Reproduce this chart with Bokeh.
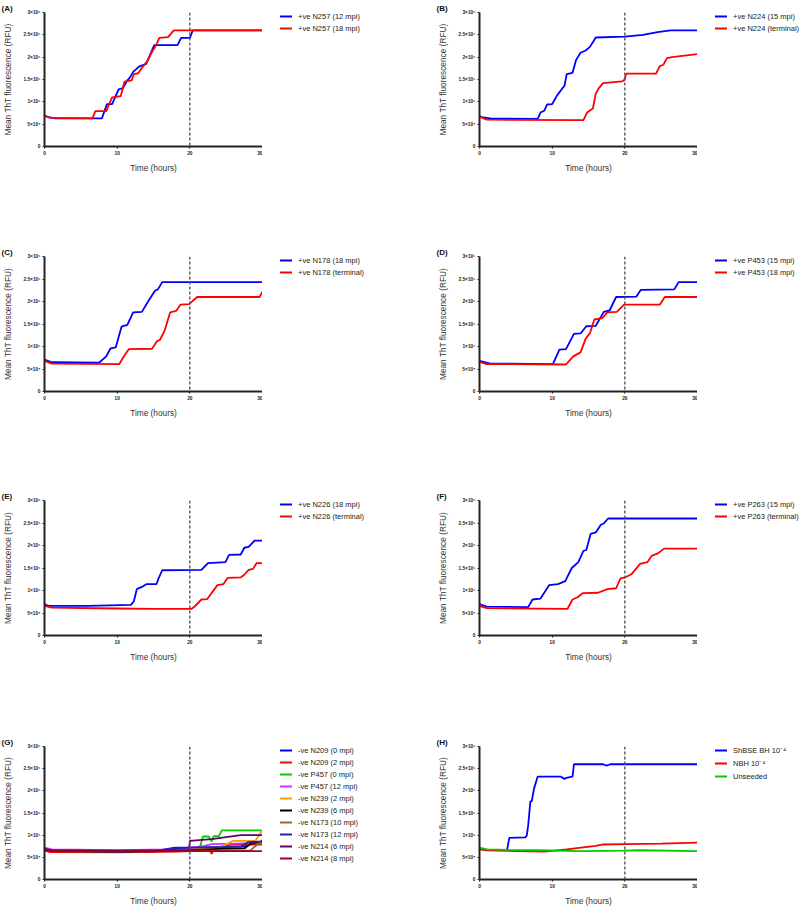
from bokeh.plotting import figure
from bokeh.layouts import column, row
from bokeh.models import Range1d, FixedTicker, Span, Legend, LegendItem
from bokeh.embed import file_html
from bokeh.resources import INLINE

FONT = "Liberation Sans"

# ---------------- data (time in hours, mean ThT fluorescence in RFU) -------------
y_ticks = [0, 50000, 100000, 150000, 200000, 250000, 300000]
y_tick_labels = ["0", "5×10⁴", "1×10⁵", "1.5×10⁵", "2×10⁵", "2.5×10⁵", "3×10⁵"]
x_ticks = [0, 10, 20, 30]

# (A)
a1_t = [0, 0.6, 1.5, 7.9, 8.6, 9.3, 10.2, 10.8, 11.4, 11.7, 12.2, 13.0, 14.0, 15.1, 18.3, 18.8, 20.0, 20.4, 30]
a1_v = [70000, 65000, 63000, 63000, 95000, 95000, 128000, 131000, 148000, 153000, 167000, 179000, 185000,
        227000, 227000, 243000, 243000, 260000, 260000]
a2_t = [0, 1, 6.6, 7.0, 8.5, 9.3, 10.5, 11.0, 12.0, 12.3, 12.9, 13.6, 14.1, 14.9, 15.3, 15.8, 17.0, 17.8, 30]
a2_v = [68000, 64000, 63000, 79000, 79000, 110000, 113000, 145000, 148000, 162000, 164000, 180000, 190000,
        215000, 225000, 243000, 245000, 260000, 260000]
# (B)
b1_t = [0, 0.3, 1.5, 8.0, 8.4, 8.9, 9.3, 10.0, 10.7, 11.4, 11.7, 12.0, 12.8, 13.3, 13.9, 14.6, 15.2, 16.0,
        20.0, 22.5, 24.5, 26.3, 30]
b1_v = [68000, 66000, 63000, 62000, 76000, 80000, 94000, 95000, 115000, 130000, 136000, 162000, 165000,
        194000, 210000, 215000, 223000, 244000, 246000, 250000, 256000, 260000, 260000]
b2_t = [0, 1, 14.3, 14.8, 15.6, 16.0, 16.4, 17.0, 19.6, 19.9, 20.2, 24.3, 24.8, 25.3, 25.8, 26.5, 30]
b2_v = [67000, 60000, 59000, 76000, 85000, 118000, 130000, 142000, 146000, 148000, 163000, 163000, 180000,
        183000, 198000, 200000, 207000]
# (C)
c1_t = [0, 1, 7.5, 8.5, 9.1, 9.8, 10.6, 11.4, 12.2, 13.4, 14.3, 15.2, 15.6, 16.2, 30]
c1_v = [71000, 65000, 64000, 78000, 96000, 98000, 144000, 148000, 176000, 177000, 201000, 224000, 227000,
        243000, 243000]
c2_t = [0, 1, 10.3, 11.0, 11.6, 14.8, 15.5, 15.9, 16.5, 17.3, 18.1, 18.7, 19.9, 21.0, 29.6, 30]
c2_v = [68000, 62000, 61000, 80000, 94000, 95000, 112000, 115000, 134000, 176000, 179000, 193000, 194000,
        210000, 210000, 222000]
# (D)
d1_t = [0, 1.5, 10.1, 11.0, 11.9, 13.0, 13.9, 14.7, 16.0, 17.1, 17.9, 18.8, 21.6, 22.2, 26.8, 27.4, 30]
d1_v = [68000, 62000, 61000, 93000, 94000, 128000, 129000, 145000, 146000, 177000, 180000, 210000, 211000,
        226000, 227000, 243000, 243000]
d2_t = [0, 1, 11.9, 12.9, 13.9, 14.6, 15.2, 15.8, 16.9, 17.6, 18.9, 19.9, 24.8, 25.5, 30]
d2_v = [66000, 61000, 60000, 78000, 87000, 117000, 130000, 160000, 163000, 176000, 177000, 193000, 193000,
        210000, 210000]
# (E)
e1_t = [0, 0.5, 6, 11.9, 12.3, 12.7, 13.4, 14.0, 15.4, 15.7, 16.2, 21.6, 22.5, 24.9, 25.4, 27.0, 27.5,
        28.1, 28.9, 30]
e1_v = [70000, 66000, 66000, 68000, 76000, 103000, 108000, 114000, 114000, 127000, 145000, 146000, 161000,
        163000, 179000, 180000, 195000, 197000, 211000, 211000]
e2_t = [0, 1, 10, 15, 20.2, 20.7, 21.6, 22.4, 23.8, 24.6, 25.2, 27.0, 27.5, 28.1, 28.7, 29.2, 30]
e2_v = [66000, 62000, 60000, 59000, 59000, 65000, 80000, 81000, 112000, 114000, 128000, 129000, 135000,
        146000, 148000, 161000, 161000]
# (F)
f1_t = [0, 1, 6.7, 7.3, 8.4, 9.6, 10.8, 11.8, 12.7, 13.6, 14.3, 14.7, 15.3, 16.0, 16.7, 17.1, 17.7, 30]
f1_v = [70000, 64000, 63000, 80000, 82000, 112000, 114000, 121000, 150000, 163000, 188000, 190000, 226000,
        229000, 246000, 249000, 260000, 260000]
f2_t = [0, 1, 12.1, 12.8, 13.5, 14.2, 16.3, 17.6, 18.8, 19.4, 20.0, 20.9, 22.1, 23.1, 23.7, 24.6, 25.4, 30]
f2_v = [66000, 61000, 59000, 80000, 85000, 94000, 95000, 103000, 105000, 127000, 129000, 136000, 159000,
        163000, 177000, 183000, 193000, 193000]
# (G) negatives
g1_t = [0, 0.5, 1, 10, 15, 16.5, 18, 20, 24, 27.5, 28.3, 30]
g1_v = [68000, 64000, 62000, 62000, 63000, 68000, 72000, 72000, 73000, 74000, 83000, 84000]
g2_t = [0, 0.5, 1, 10, 18, 20, 22.8, 23, 23.2, 24, 25.5, 30]
g2_v = [66000, 63000, 62000, 61000, 63000, 64000, 65000, 58000, 65000, 70000, 78000, 79000]
g3_t = [0, 1, 10, 20, 21.3, 21.8, 22.6, 23, 23.3, 24, 24.4, 30]
g3_v = [66000, 64000, 63000, 65000, 67000, 97000, 97000, 86000, 98000, 98000, 111000, 111000]
g4_t = [0, 1, 10, 17, 20, 22, 23, 26, 30]
g4_v = [72000, 68000, 66000, 68000, 71000, 76000, 80000, 81000, 83000]
g5_t = [0, 1, 10, 18, 20, 22, 24, 24.5, 26, 29, 30]
g5_v = [67000, 65000, 64000, 65000, 67000, 70000, 73000, 76000, 87000, 87000, 112000]
g6_t = [0, 1, 10, 20, 24, 27.5, 28.5, 30]
g6_v = [67000, 65000, 63000, 66000, 69000, 70000, 82000, 85000]
g7_t = [0, 1, 10, 20, 28.3, 30]
g7_v = [69000, 66000, 64000, 65000, 65000, 89000]
g8_t = [0, 1, 10, 16, 18, 20, 27, 28, 30]
g8_v = [69000, 65000, 63000, 65000, 70000, 72000, 74000, 84000, 86000]
g9_t = [0, 1, 10, 19.9, 20, 23, 27, 30]
g9_v = [68000, 66000, 65000, 66000, 87000, 91000, 100000, 100000]
g10_t = [0, 1, 10, 20, 30]
g10_v = [66000, 64000, 63000, 64000, 64000]
# (H) controls
h1_t = [0, 1, 3.8, 4.1, 6.3, 6.5, 6.7, 7.0, 7.2, 7.5, 8.0, 11.2, 11.7, 12.1, 12.8, 13.0, 17.0, 17.5, 18.0, 30]
h1_v = [70000, 67000, 67000, 94000, 95000, 99000, 122000, 176000, 177000, 205000, 232000, 232000, 227000,
        230000, 232000, 260000, 260000, 257000, 260000, 260000]
h2_t = [0, 1, 5, 9, 12, 14, 16, 17, 20, 25, 30]
h2_v = [68000, 66000, 64000, 63000, 68000, 72000, 76000, 79000, 80000, 81000, 83000]
h3_t = [0, 1, 4, 8, 14, 20, 22, 30]
h3_v = [72000, 68000, 67000, 66000, 64000, 65000, 66000, 64000]

BLUE, RED = "#0000FF", "#FF0000"
panels = [
    ("(A)", [("+ve N257 (12 mpi)", a1_t, a1_v, BLUE), ("+ve N257 (18 mpi)", a2_t, a2_v, RED)]),
    ("(B)", [("+ve N224 (15 mpi)", b1_t, b1_v, BLUE), ("+ve N224 (terminal)", b2_t, b2_v, RED)]),
    ("(C)", [("+ve N178 (18 mpi)", c1_t, c1_v, BLUE), ("+ve N178 (terminal)", c2_t, c2_v, RED)]),
    ("(D)", [("+ve P453 (15 mpi)", d1_t, d1_v, BLUE), ("+ve P453 (18 mpi)", d2_t, d2_v, RED)]),
    ("(E)", [("+ve N226 (18 mpi)", e1_t, e1_v, BLUE), ("+ve N226 (terminal)", e2_t, e2_v, RED)]),
    ("(F)", [("+ve P263 (15 mpi)", f1_t, f1_v, BLUE), ("+ve P263 (terminal)", f2_t, f2_v, RED)]),
    ("(G)", [("-ve N209 (0 mpi)", g1_t, g1_v, BLUE),
             ("-ve N209 (2 mpi)", g2_t, g2_v, RED),
             ("-ve P457 (0 mpi)", g3_t, g3_v, "#00CC00"),
             ("-ve P457 (12 mpi)", g4_t, g4_v, "#CC33FF"),
             ("-ve N239 (2 mpi)", g5_t, g5_v, "#FF9900"),
             ("-ve N239 (6 mpi)", g6_t, g6_v, "#000000"),
             ("-ve N173 (10 mpi)", g7_t, g7_v, "#996633"),
             ("-ve N173 (12 mpi)", g8_t, g8_v, "#2222AA"),
             ("-ve N214 (6 mpi)", g9_t, g9_v, "#660066"),
             ("-ve N214 (8 mpi)", g10_t, g10_v, "#A00020")]),
    ("(H)", [("ShBSE BH 10⁻⁴", h1_t, h1_v, BLUE), ("NBH 10⁻⁴", h2_t, h2_v, RED),
             ("Unseeded", h3_t, h3_v, "#00CC00")]),
]

# ---------------- layout geometry ----------------
FRAME_W = 218
row_geom = [(243, 12, 134), (244, 13, 135), (246, 13, 135), (175, 13, 135)]  # (fig height, top border, frame h)
col_geom = [(44, 138), (79, 103)]                                           # (left border, legend col width)


def make_panel(letter, series, ci, ri):
    bl, lw = col_geom[ci]
    fh, bt, frh = row_geom[ri]
    p = figure(width=bl + FRAME_W, height=fh, output_backend="svg", toolbar_location=None,
               x_range=Range1d(0, 30), y_range=Range1d(0, 300000),
               min_border_left=bl, min_border_right=0,
               min_border_top=bt, min_border_bottom=fh - bt - frh)
    p.outline_line_color = None
    p.xgrid.visible = False
    p.ygrid.visible = False

    p.title.text = letter
    p.title.align = "left"
    p.title.offset = -43
    p.title.standoff = 0
    p.title.text_font = FONT
    p.title.text_font_size = "8px"
    p.title.text_font_style = "bold"
    p.title.text_color = "#111111"

    for ax in (p.xaxis[0], p.yaxis[0]):
        ax.axis_line_width = 2
        ax.axis_line_color = "#222222"
        ax.major_tick_line_color = "#222222"
        ax.major_tick_line_width = 1.2
        ax.major_tick_in = 0
        ax.major_tick_out = 2
        ax.minor_tick_line_color = None
        ax.major_label_text_font = FONT
        ax.major_label_text_font_size = "4.8px"
        ax.major_label_text_font_style = "bold"
        ax.major_label_text_color = "#222222"
        ax.major_label_standoff = 2
        ax.axis_label_text_font = FONT
        ax.axis_label_text_font_size = "8.3px"
        ax.axis_label_text_font_style = "normal"
        ax.axis_label_text_color = "#333333"

    p.xaxis.ticker = FixedTicker(ticks=x_ticks)
    p.xaxis.major_label_overrides = {t: str(t) for t in x_ticks}
    p.xaxis.axis_label = "Time (hours)"
    p.xaxis.axis_label_standoff = 5
    p.yaxis.ticker = FixedTicker(ticks=y_ticks)
    p.yaxis.major_label_overrides = dict(zip(y_ticks, y_tick_labels))
    p.yaxis.axis_label = "Mean ThT fluorescence (RFU)"
    p.yaxis.axis_label_standoff = 7

    # legend-only companion figure to the right of the plot frame
    lt = bt - 1
    lg = figure(width=lw, height=fh, output_backend="svg", toolbar_location=None,
                x_range=Range1d(-20, -10), y_range=Range1d(0, 300000),
                x_axis_location=None, y_axis_location=None,
                min_border_left=18, min_border_right=0,
                min_border_top=lt, min_border_bottom=fh - lt - 150)
    lg.title.visible = False
    lg.title.standoff = 0
    lg.title.text_font_size = "1px"
    lg.outline_line_color = None
    lg.xgrid.visible = False
    lg.ygrid.visible = False

    items = []
    for name, t, v, col in series:
        p.line(t, v, line_color=col, line_width=1.8)
        r = lg.line(t, v, line_color=col, line_width=2)
        items.append(LegendItem(label=name, renderers=[r]))

    p.add_layout(Span(location=20, dimension="height", line_color="#555555",
                      line_dash="3 2", line_width=1.4))

    legend = Legend(items=items, location="top_left",
                    label_text_font=FONT, label_text_font_size="7.5px", label_text_color="#222222",
                    glyph_width=14, glyph_height=12, label_height=12,
                    spacing=1 if len(items) == 3 else 0,
                    padding=0, margin=-2, label_standoff=6,
                    border_line_color=None, background_fill_alpha=0)
    lg.add_layout(legend)
    return p, lg


figs = [make_panel(letter, series, i % 2, i // 2) for i, (letter, series) in enumerate(panels)]
rows = []
for r in range(4):
    (p1, l1), (p2, l2) = figs[2 * r], figs[2 * r + 1]
    rows.append(row(p1, l1, p2, l2))
layout = column(*rows)

open("out.html", "w").write(file_html(layout, INLINE))
